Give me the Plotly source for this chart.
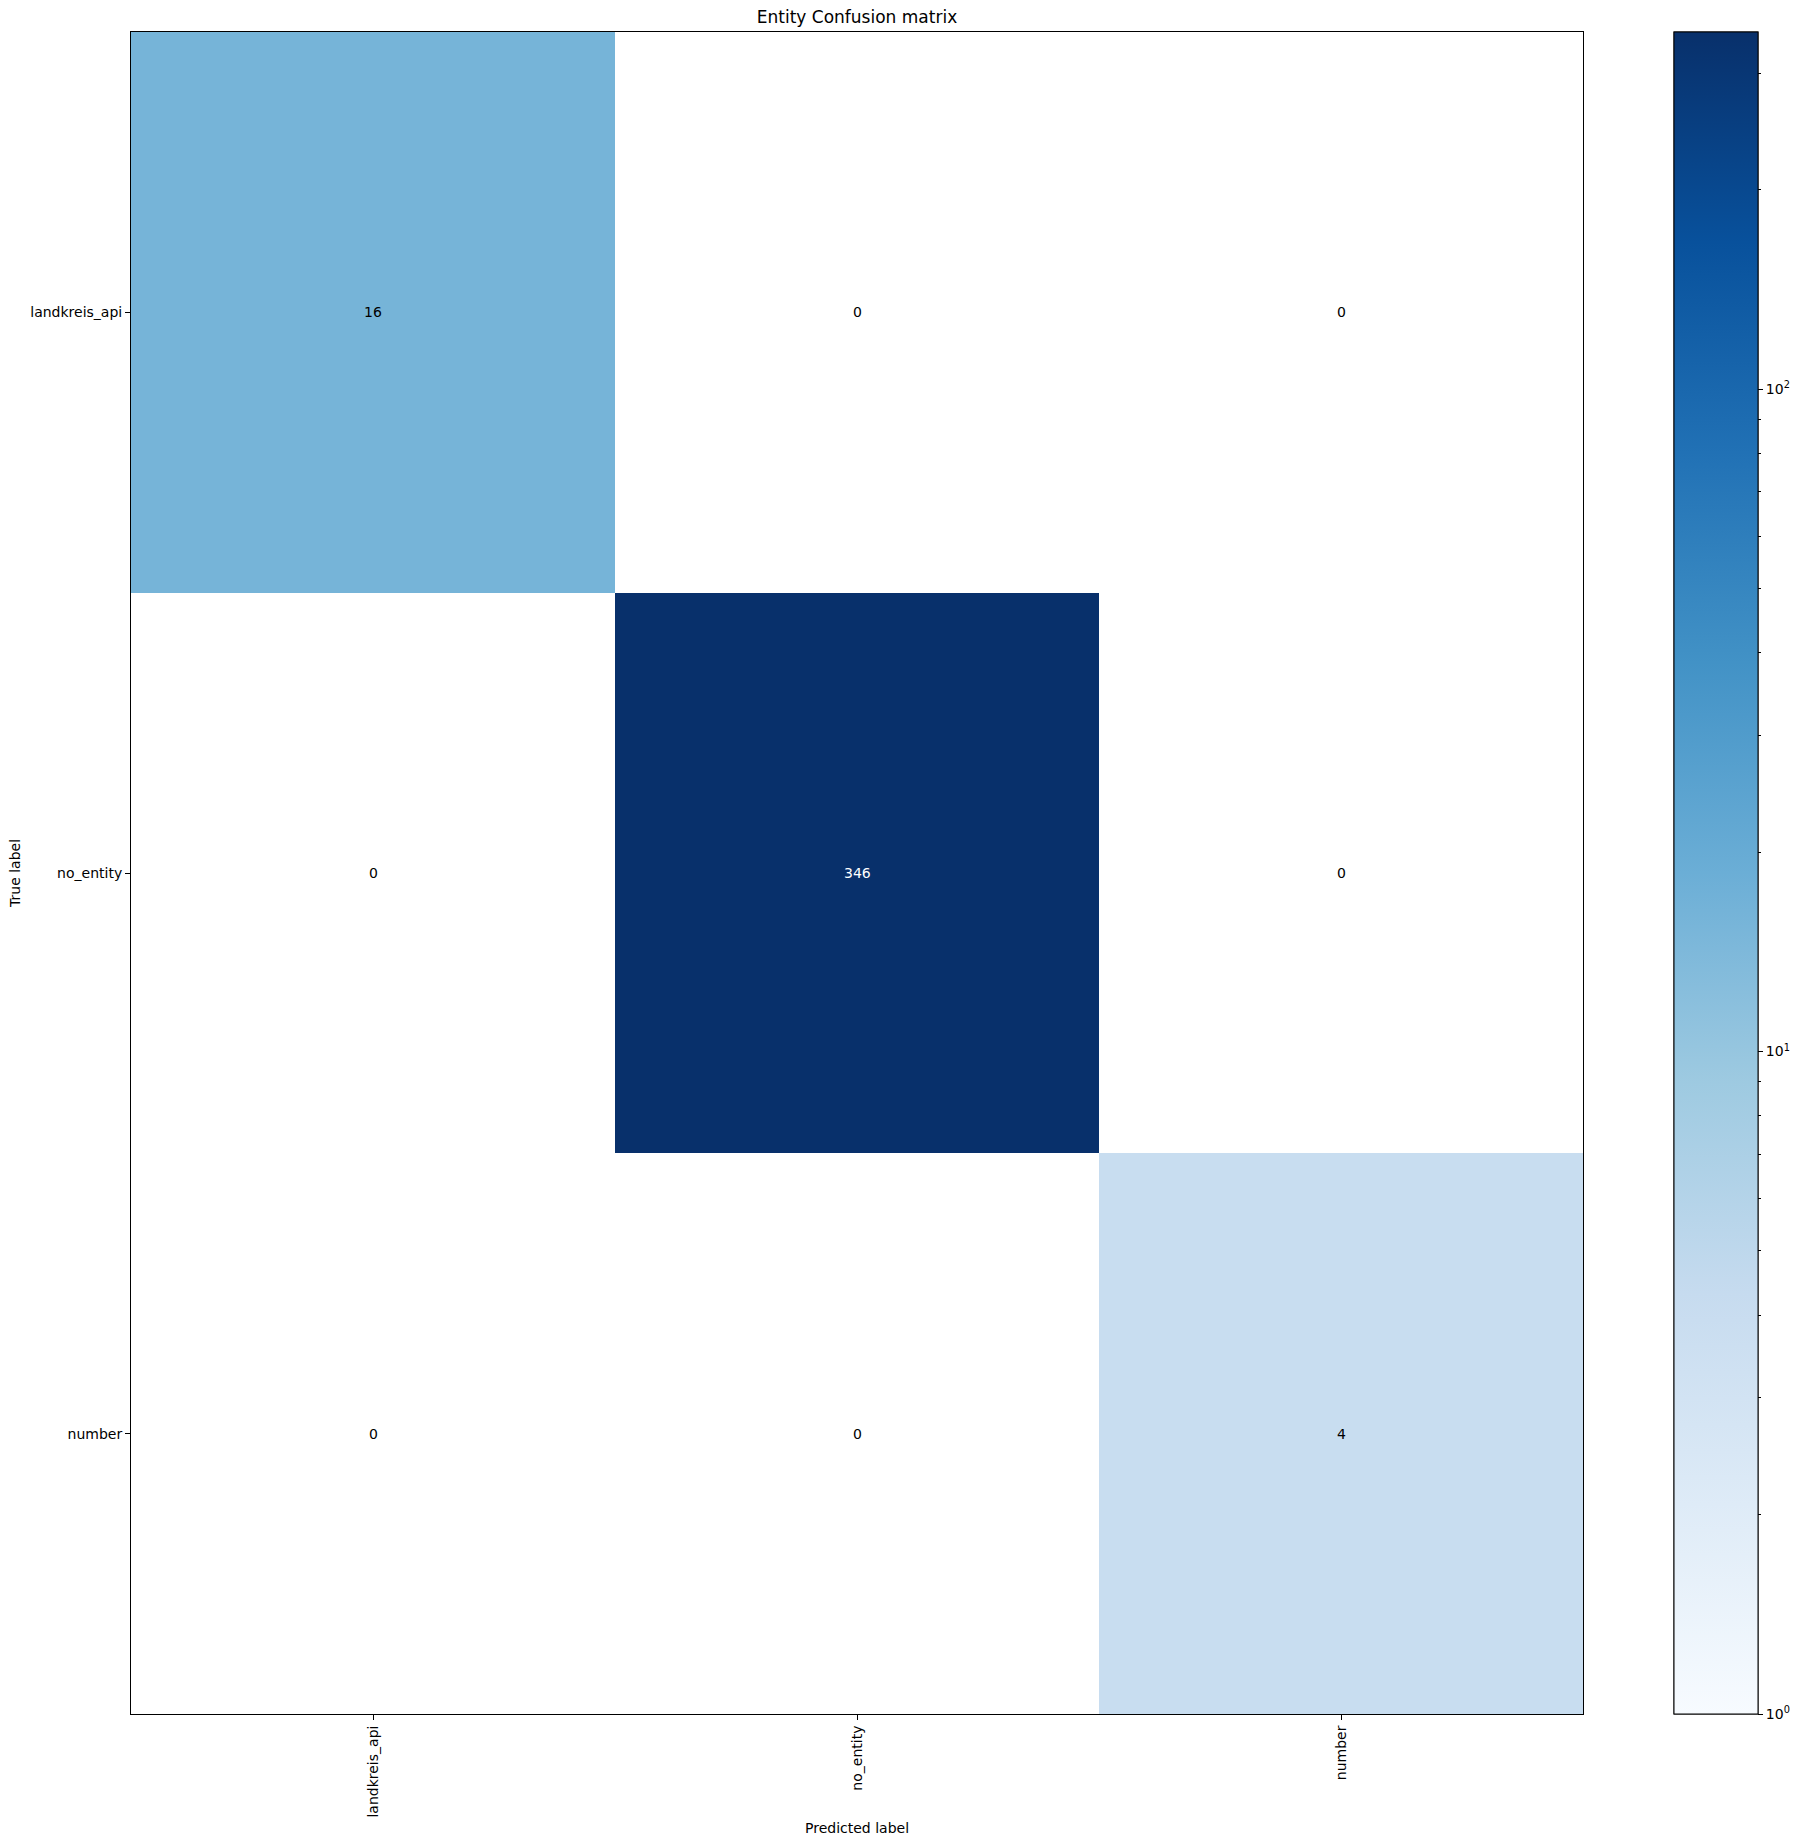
import math
import plotly.graph_objects as go

# ---- data ----
labels = ["landkreis_api", "no_entity", "number"]
row_landkreis_api = [16, 0, 0]
row_no_entity = [0, 346, 0]
row_number = [0, 0, 4]
matrix = [row_landkreis_api, row_no_entity, row_number]

cbar_major = [1, 10, 100]
cbar_major_text = ["10<sup>0</sup>", "10<sup>1</sup>", "10<sup>2</sup>"]
cbar_minor = [2, 3, 4, 5, 6, 7, 8, 9, 20, 30, 40, 50, 60, 70, 80, 90, 200, 300]

vmin = 1
vmax = max(max(r) for r in matrix)

# colorbrewer Blues (same as matplotlib's)
blues = ["rgb(247,251,255)", "rgb(222,235,247)", "rgb(198,219,239)",
         "rgb(158,202,225)", "rgb(107,174,214)", "rgb(66,146,198)",
         "rgb(33,113,181)", "rgb(8,81,156)", "rgb(8,48,107)"]
colorscale = [[i / (len(blues) - 1), c] for i, c in enumerate(blues)]

# log-normalised z (zeros masked -> white background)
z = [[math.log10(v) if v > 0 else None for v in row] for row in matrix]
zlo, zhi = math.log10(vmin), math.log10(vmax)

FONT = "DejaVu Sans"

cb_common = dict(
    x=1.0627, xanchor="left", xpad=0,
    y=0.5, yanchor="middle", len=1, lenmode="fraction", ypad=0,
    thickness=84, thicknessmode="pixels",
    outlinewidth=1, outlinecolor="black",
    ticks="outside", tickcolor="black", tickwidth=1,
    tickfont=dict(family=FONT, size=14, color="black"),
)

fig = go.Figure()
# minor colorbar ticks (no labels), same scale -- drawn first, underneath
fig.add_trace(go.Scatter(
    x=[None], y=[None], mode="markers", hoverinfo="skip",
    marker=dict(color=[zlo], cmin=zlo, cmax=zhi, colorscale=colorscale,
                showscale=True,
                colorbar=dict(**cb_common, tickmode="array",
                              tickvals=[math.log10(v) for v in cbar_minor],
                              showticklabels=False, ticklen=3)),
))
fig.add_trace(go.Heatmap(
    x=labels, y=labels, z=z, zmin=zlo, zmax=zhi,
    colorscale=colorscale, hoverongaps=False,
    colorbar=dict(**cb_common, tickmode="array",
                  tickvals=[math.log10(v) for v in cbar_major],
                  ticktext=cbar_major_text, ticklen=5),
))

thresh = vmax / 2
for i, row in enumerate(matrix):
    for j, v in enumerate(row):
        fig.add_annotation(
            x=labels[j], y=labels[i], text=str(v), showarrow=False,
            font=dict(family=FONT, size=14,
                      color="white" if v > thresh else "black"),
        )

fig.add_annotation(text="Predicted label", xref="paper", yref="paper",
                   x=0.5, y=-0.0678, xanchor="center", yanchor="middle",
                   showarrow=False, font=dict(family=FONT, size=14, color="black"))
fig.add_annotation(text="True label", xref="paper", yref="paper",
                   x=-0.0799, y=0.5, xanchor="center", yanchor="middle",
                   textangle=-90, showarrow=False,
                   font=dict(family=FONT, size=14, color="black"))

fig.update_layout(
    width=1803, height=1845,
    margin=dict(l=131, r=220, t=32, b=131, pad=0),
    paper_bgcolor="white", plot_bgcolor="white",
    font=dict(family=FONT, size=14, color="black"),
    title=dict(text="Entity Confusion matrix", x=857 / 1803, xanchor="center",
               xref="container", yref="container", y=1 - 17 / 1845,
               yanchor="middle",
               font=dict(family=FONT, size=17, color="black")),
    showlegend=False,
)
fig.update_xaxes(
    type="category", categoryorder="array", categoryarray=labels,
    showgrid=False, zeroline=False,
    showline=True, linecolor="black", linewidth=1, mirror=True,
    ticks="outside", ticklen=5, tickcolor="black", tickangle=-90,
    tickfont=dict(family=FONT, size=14, color="black"),
)
fig.update_yaxes(
    type="category", categoryorder="array", categoryarray=labels,
    autorange="reversed", showgrid=False, zeroline=False,
    showline=True, linecolor="black", linewidth=1, mirror=True,
    ticks="outside", ticklen=5, tickcolor="black",
    tickfont=dict(family=FONT, size=14, color="black"),
)

fig.write_html("out.html", config={"displayModeBar": False},
               post_script="document.body.style.margin='0';"
                           "document.body.style.padding='0';")
